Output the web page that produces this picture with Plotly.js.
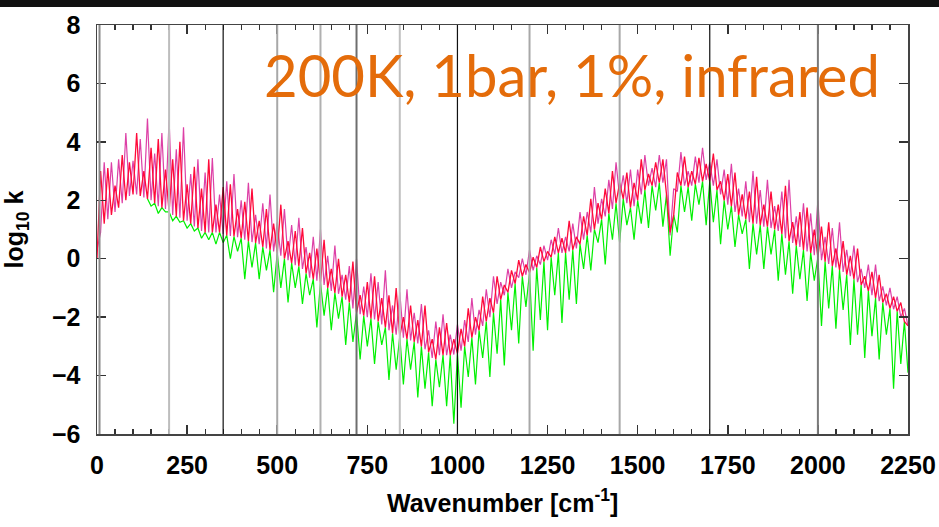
<!DOCTYPE html>
<html>
<head>
<meta charset="utf-8">
<script src="https://cdn.plot.ly/plotly-3.0.1.min.js"></script>
<style>html,body{margin:0;padding:0;background:#fff;}#chart{width:939px;height:527px;}</style>
</head>
<body>
<div id="chart"></div>
<script>
// Wavenumber grid [cm^-1]
const wavenumber = [
0,10,20,30,40,50,60,70,80,90,
100,110,120,130,140,150,160,170,180,190,
200,210,220,230,240,250,260,270,280,290,
300,310,320,330,340,350,360,370,380,390,
400,410,420,430,440,450,460,470,480,490,
500,510,520,530,540,550,560,570,580,590,
600,610,620,630,640,650,660,670,680,690,
700,710,720,730,740,750,760,770,780,790,
800,810,820,830,840,850,860,870,880,890,
900,910,920,930,940,950,960,970,980,990,
1000,1010,1020,1030,1040,1050,1060,1070,1080,1090,
1100,1110,1120,1130,1140,1150,1160,1170,1180,1190,
1200,1210,1220,1230,1240,1250,1260,1270,1280,1290,
1300,1310,1320,1330,1340,1350,1360,1370,1380,1390,
1400,1410,1420,1430,1440,1450,1460,1470,1480,1490,
1500,1510,1520,1530,1540,1550,1560,1570,1580,1590,
1600,1610,1620,1630,1640,1650,1660,1670,1680,1690,
1700,1710,1720,1730,1740,1750,1760,1770,1780,1790,
1800,1810,1820,1830,1840,1850,1860,1870,1880,1890,
1900,1910,1920,1930,1940,1950,1960,1970,1980,1990,
2000,2010,2020,2030,2040,2050,2060,2070,2080,2090,
2100,2110,2120,2130,2140,2150,2160,2170,2180,2190,
2200,2210,2220,2230,2240,2250];

// log10 k, magenta spectrum
const kMagenta = [
0.3,0.9,3.3,1.35,3.3,1.6,3.4,1.9,4.3,2.15,
3.35,2.2,4.1,2.1,4.8,2.0,3.6,1.8,4.3,1.7,
4.75,1.5,3.75,1.4,4.5,1.3,2.9,1.1,3.4,0.95,
2.95,0.9,3.45,0.9,2.2,0.85,2.65,0.78,2.9,0.74,
2.0,0.65,2.6,0.57,1.5,0.5,1.9,0.35,2.2,0.25,
1.25,0.1,1.7,-0.05,1.15,-0.22,1.4,-0.35,0.4,-0.65,
0.75,-0.75,1.0,-0.9,0.1,-1.1,0.45,-1.2,-0.55,-1.4,
-0.25,-1.7,0.0,-1.9,-0.95,-2.0,-0.5,-2.08,-0.8,-2.25,
-0.4,-2.45,-1.6,-2.6,-1.15,-2.7,-1.05,-2.8,-1.85,-2.9,
-1.55,-3.1,-2.45,-3.4,-2.15,-3.3,-1.9,-3.3,-2.6,-3.28,
-2.25,-3.15,-2.1,-2.85,-1.35,-2.6,-1.75,-2.3,-1.05,-2.0,
-0.6,-1.55,-0.8,-1.25,-0.35,-1.0,-0.45,-0.65,0.0,-0.55,
0.3,-0.4,0.1,-0.2,0.45,-0.05,0.65,0.15,1.05,0.2,
0.75,0.25,1.2,0.35,1.6,0.65,1.6,0.9,2.45,1.2,
2.05,1.45,2.7,1.7,3.3,2.1,2.85,1.9,3.05,1.8,
3.05,2.2,3.55,2.5,3.1,2.45,3.55,2.6,3.4,0.8,
2.4,2.3,3.65,2.5,3.0,2.5,3.5,2.6,3.8,2.7,
3.3,2.5,3.4,2.2,3.05,1.85,3.25,1.6,2.4,1.45,
2.65,1.25,3.0,1.2,2.35,1.1,2.7,1.05,1.8,0.95,
2.3,0.7,2.7,0.54,1.45,0.4,1.9,0.25,1.55,0.12,
2.0,-0.05,0.75,-0.18,1.05,-0.3,1.25,-0.45,0.3,-0.6,
0.45,-0.8,-0.35,-1.0,-0.2,-1.25,-0.2,-1.45,-0.95,-1.6,
-1.0,-1.73,-1.3,-2.0,-1.7,-2.3];

// log10 k, red spectrum
const kRed = [
0.0,3.0,1.2,3.1,1.5,2.5,1.75,3.55,2.0,3.3,
2.2,4.3,2.15,3.0,2.05,3.8,1.9,4.1,1.75,3.05,
1.6,3.4,1.45,4.0,1.3,2.55,1.2,3.15,1.05,2.4,
0.9,3.4,0.9,1.85,0.9,2.45,0.8,2.55,0.76,1.7,
0.7,1.95,0.6,2.4,0.54,1.3,0.4,1.7,0.3,1.2,
0.2,1.85,0.0,0.6,-0.15,0.95,-0.26,1.05,-0.5,0.2,
-0.7,0.35,-0.82,0.65,-1.0,-0.35,-1.17,0.0,-1.3,-0.55,
-1.5,-0.1,-1.85,-1.25,-1.95,-0.8,-2.05,-0.6,-2.15,-1.35,
-2.35,-1.25,-2.55,-1.0,-2.66,-2.0,-2.75,-1.6,-2.85,-2.1,
-3.0,-1.6,-3.2,-2.75,-3.45,-2.35,-3.3,-2.2,-3.3,-2.75,
-3.25,-2.4,-3.0,-1.7,-2.7,-2.0,-2.45,-1.3,-2.15,-1.35,
-1.85,-0.6,-1.4,-0.9,-1.15,-0.4,-0.85,-0.05,-0.6,-0.2,
-0.48,0.05,-0.3,0.4,-0.1,0.25,0.05,0.75,0.2,0.7,
0.2,1.3,0.3,0.75,0.5,1.45,0.8,2.05,1.0,1.9,
1.35,2.4,1.55,3.0,1.9,2.6,2.05,2.95,1.75,2.6,
2.0,3.4,2.35,2.9,2.5,3.3,2.6,3.4,2.2,0.9,
1.5,2.95,2.5,3.5,2.45,3.0,2.55,3.45,2.65,3.25,
2.65,3.6,2.35,2.65,2.0,2.9,1.8,2.95,1.5,2.2,
1.35,2.3,1.2,2.8,1.15,1.85,1.1,2.3,1.0,1.85,
0.85,2.5,0.6,1.25,0.45,1.6,0.3,1.75,0.2,1.0,
0.05,1.1,-0.1,1.25,-0.25,0.35,-0.38,0.6,-0.55,0.1,
-0.7,0.35,-0.9,-0.6,-1.1,-0.45,-1.35,-0.55,-1.5,-1.2,
-1.7,-1.3,-1.8,-1.5,-2.15,-2.3];

// log10 k, green spectrum
const kGreen = [
null,null,null,null,null,null,null,null,null,null,
null,null,null,null,2.05,1.8,1.9,1.55,1.75,1.6,
1.6,1.3,1.45,1.25,1.3,1.05,1.2,0.95,1.05,0.7,
0.9,0.65,0.9,0.5,0.9,0.55,0.8,0.0,0.76,0.25,
0.7,-0.7,0.6,-0.3,0.54,-0.7,0.4,-0.4,0.3,-1.15,
0.2,-1.0,0.0,-1.5,-0.15,-1.0,-0.26,-1.55,-0.5,-1.25,
-0.7,-2.35,-0.82,-1.95,-1.0,-2.45,-1.17,-2.05,-1.3,-2.95,
-1.5,-2.85,-1.85,-3.45,-1.95,-3.0,-2.05,-3.6,-2.15,-2.95,
-2.35,-4.15,-2.55,-3.8,-2.66,-4.3,-2.75,-3.8,-2.85,-4.75,
-3.0,-4.45,-3.2,-5.05,-3.45,-4.4,-3.3,-5.05,-3.3,-5.65,
-3.25,-5.1,-3.0,-4.05,-2.7,-4.3,-2.45,-3.4,-2.15,-4.05,
-1.85,-3.25,-1.4,-3.65,-1.15,-2.45,-0.85,-2.9,-0.6,-1.65,
-0.48,-3.15,-0.3,-2.1,-0.1,-2.45,0.05,-1.25,0.2,-2.2,
0.2,-1.4,0.3,-1.55,0.5,-0.35,0.8,-0.4,1.0,0.55,
1.35,-0.2,1.55,0.65,1.9,0.55,2.05,1.15,1.75,0.65,
2.0,1.2,2.35,1.05,2.5,1.65,2.6,1.1,2.2,0.1,
1.5,0.9,2.5,1.6,2.45,1.3,2.55,1.85,2.65,1.15,
2.65,1.25,2.35,0.5,2.0,1.0,1.8,0.4,1.5,0.85,
1.35,-0.35,1.2,0.15,1.15,-0.35,1.1,0.15,1.0,-0.75,
0.85,-0.55,0.6,-1.2,0.45,-0.7,0.3,-1.45,0.2,-0.75,
0.05,-2.3,-0.1,-1.7,-0.25,-2.4,-0.38,-1.75,-0.55,-2.95,
-0.7,-2.6,-0.9,-3.4,-1.1,-2.65,-1.35,-3.45,-1.5,-2.6,
-1.7,-4.45,-1.8,-3.6,-2.15,-3.9];

// Reference vertical lines (wavenumber) and their shade
const refLines  = [7, 200, 350, 500, 620, 720, 840, 1000, 1200, 1450, 1700, 2000];
const refShades = ['#8a8a8a','#bdbdbd','#111111','#a8a8a8','#b0b0b0','#6e6e6e','#c0c0c0','#111111','#a8a8a8','#a8a8a8','#111111','#7a7a7a'];

const xTickVals = [0,250,500,750,1000,1250,1500,1750,2000,2250];
const yTickVals = [-6,-4,-2,0,2,4,6,8];

const titleText = '200K, 1bar, 1%, infrared';

const traces = [
  {x: wavenumber, y: kGreen, type: 'scatter', mode: 'lines', connectgaps: false,
   line: {color: '#00f000', width: 1.2}, hoverinfo: 'skip'},
  {x: wavenumber, y: kMagenta, type: 'scatter', mode: 'lines',
   line: {color: 'rgba(215,30,150,0.85)', width: 1.2}, hoverinfo: 'skip'},
  {x: wavenumber, y: kRed, type: 'scatter', mode: 'lines',
   line: {color: '#ff0a3a', width: 1.3}, hoverinfo: 'skip'}
];

const shapes = refLines.map((v, i) => ({
  type: 'line', xref: 'x', yref: 'paper', x0: v, x1: v, y0: 0, y1: 1,
  line: {color: refShades[i], width: refShades[i] === '#111111' ? 1.2 : 2},
  layer: 'above'
}));
shapes.push({type: 'rect', xref: 'paper', yref: 'paper', x0: -0.2, x1: 1.1,
  y0: 1.044, y1: 1.08, fillcolor: '#111111', line: {width: 0}, layer: 'above'});

const axisFont = {family: 'Liberation Sans, Arial, sans-serif', size: 25, color: '#000', weight: 'bold'};

const layout = {
  width: 939, height: 527,
  margin: {l: 97, r: 31, t: 25, b: 93, pad: 0},
  paper_bgcolor: '#ffffff', plot_bgcolor: '#ffffff',
  showlegend: false,
  xaxis: {
    range: [0, 2250], tickvals: xTickVals, ticktext: xTickVals.map(String),
    ticks: 'inside', ticklen: 9, tickwidth: 1.5, tickcolor: '#333',
    minor: {dtick: 50, ticks: 'inside', ticklen: 5, tickwidth: 1.2, tickcolor: '#333', showgrid: false},
    showline: true, linecolor: '#444', linewidth: 1.5, mirror: 'ticks',
    showgrid: false, zeroline: false, tickfont: axisFont, ticklabelstandoff: 8
  },
  yaxis: {
    range: [-6, 8], tickvals: yTickVals,
    ticks: 'inside', ticklen: 9, tickwidth: 1.5, tickcolor: '#333',
    showline: true, linecolor: '#444', linewidth: 1.5, mirror: 'ticks',
    showgrid: false, zeroline: false, tickfont: axisFont, ticklabelstandoff: 10
  },
  shapes: shapes,
  annotations: [
    {text: titleText, xref: 'paper', yref: 'paper', x: 0.968, y: 0.88,
     xanchor: 'right', yanchor: 'middle', showarrow: false,
     font: {family: 'Lato, Open Sans, sans-serif', size: 58, color: '#e46c0a'}},
    {text: 'Wavenumber [cm<sup>-1</sup>]', xref: 'paper', yref: 'paper', x: 0.5, y: -0.165,
     xanchor: 'center', yanchor: 'middle', showarrow: false, font: axisFont},
    {text: 'log<sub>10</sub> k', xref: 'paper', yref: 'paper', x: -0.1, y: 0.5,
     xanchor: 'center', yanchor: 'middle', textangle: -90, showarrow: false, font: axisFont}
  ]
};

Plotly.newPlot('chart', traces, layout, {staticPlot: true, displayModeBar: false});
</script>
</body>
</html>
